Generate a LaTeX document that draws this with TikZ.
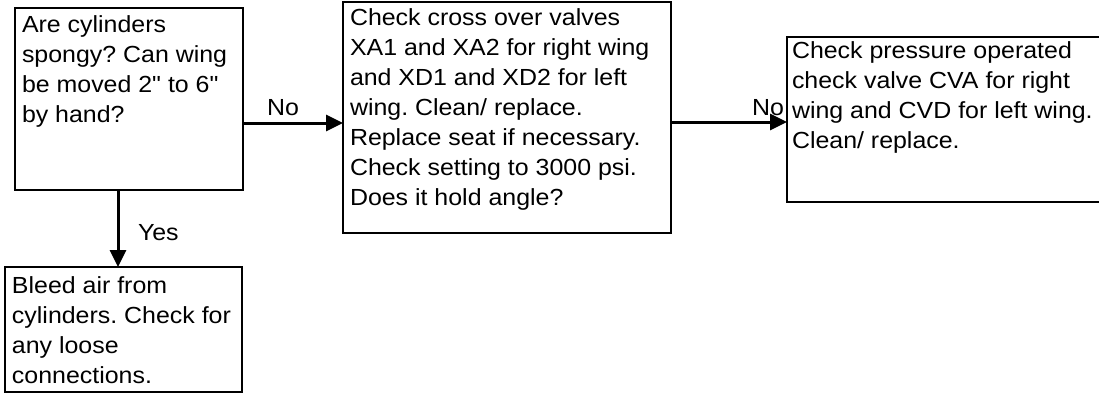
\documentclass[tikz,border=0pt]{standalone}
\usepackage{fontspec}
\setmainfont[FakeStretch=1.07,Ligatures=TeXOff]{Liberation Sans}
\usetikzlibrary{arrows.meta}
\frenchspacing
\tikzset{
  box/.style={draw, line width=1.7pt, rectangle, inner sep=0pt, outer sep=0pt},
  boxtext/.style={inner sep=0pt, outer sep=0pt, anchor=base west, font=\fontsize{23.3}{30}\selectfont},
  lbl/.style={inner sep=0pt, outer sep=0pt, anchor=base west, font=\fontsize{23.3}{30}\selectfont},
  arr/.style={line width=3pt, -{Triangle[length=17pt,width=16pt]}}
}
\begin{document}
\begin{tikzpicture}[x=1pt,y=-1pt]
\useasboundingbox (0,0) rectangle (1099,393);
% boxes
\node[box, minimum width=228pt, minimum height=182pt] (b1) at (129,99) {};
\node[box, minimum width=328pt, minimum height=231pt] (b2) at (507,117.5) {};
\node[box, minimum width=314pt, minimum height=165pt] (b3) at (944,119.5) {};
\node[box, minimum width=237pt, minimum height=125pt] (b4) at (123.5,329.5) {};
% texts
\node[boxtext] (t1) at (22,33) {\parbox[t]{225pt}{\raggedright\frenchspacing Are cylinders\\spongy? Can wing\\be moved 2" to 6"\\by hand?}};
\node[boxtext] (t2) at (350,26) {\parbox[t]{325pt}{\raggedright\frenchspacing Check cross over valves\\XA1 and XA2 for right wing\\and XD1 and XD2 for left\\wing. Clean/ replace.\\Replace seat if necessary.\\Check setting to 3000 psi.\\Does it hold angle?}};
\node[boxtext] (t3) at (792,59) {\parbox[t]{310pt}{\raggedright\frenchspacing Check pressure operated\\check valve CVA for right\\wing and CVD for left wing.\\Clean/ replace.}};
\node[boxtext] (t4) at (12,293) {\parbox[t]{235pt}{\raggedright\frenchspacing Bleed air from\\cylinders. Check for\\any loose\\connections.}};
% connector helper coordinates
\coordinate (y1) at (0,123);
\coordinate (y2) at (0,122);
\coordinate (x3) at (118,0);
% connectors
\draw[arr] (b1.east |- y1) -- (b2.west |- y1);
\draw[arr] (b2.east |- y2) -- (b3.west |- y2);
\draw[arr] (x3 |- b1.south) -- (x3 |- b4.north);
% labels
\node[lbl] (l1) at (267,115) {No};
\node[lbl] (l2) at (752,115) {No};
\node[lbl] (l3) at (138,240) {Yes};
\end{tikzpicture}
\end{document}
